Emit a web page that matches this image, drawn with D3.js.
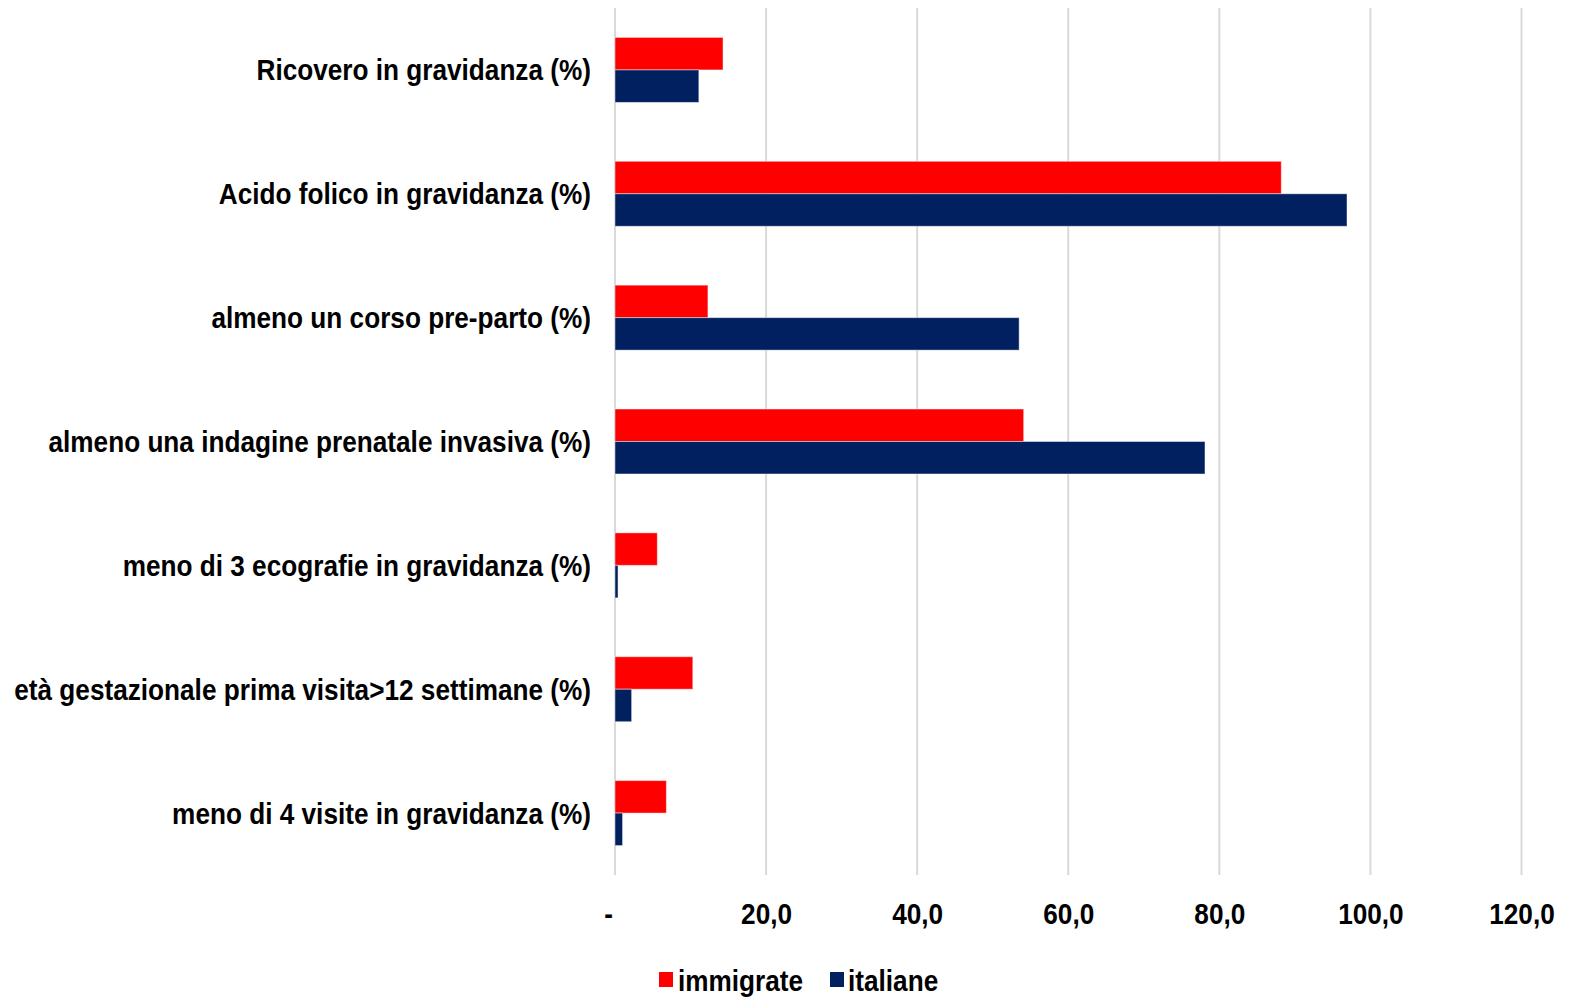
<!DOCTYPE html>
<html>
<head>
<meta charset="utf-8">
<script src="https://cdn.jsdelivr.net/npm/d3@7"></script>
<style>
  html, body { margin: 0; padding: 0; background: #fff; }
  svg { display: block; }
  text { font-family: "Liberation Sans Narrow", "Arial Narrow", "Liberation Sans", Arial, sans-serif; font-weight: bold; fill: #000; }
</style>
</head>
<body>
<svg id="chart" width="1572" height="999"></svg>
<script>
// Indicators (top to bottom)
const categories = [
  "Ricovero in gravidanza (%)",
  "Acido folico in gravidanza (%)",
  "almeno un corso pre-parto (%)",
  "almeno una indagine prenatale invasiva (%)",
  "meno di 3 ecografie in gravidanza (%)",
  "età gestazionale prima visita>12 settimane (%)",
  "meno di 4 visite in gravidanza (%)"
];
const seriesNames = ["immigrate", "italiane"];
const immigrate = [14.3, 88.2, 12.3, 54.1, 5.6, 10.3, 6.8];
const italiane  = [11.1, 96.9, 53.5, 78.1, 0.4, 2.2, 1.0];
const tickValues = [0, 20, 40, 60, 80, 100, 120];
const tickLabels = ["-", "20,0", "40,0", "60,0", "80,0", "100,0", "120,0"];
const seriesColors = ["#ff0000", "#002060"];

const rows = categories.map((c, i) => ({ category: c, values: [immigrate[i], italiane[i]] }));

const svg = d3.select("#chart");
const plotLeft = 615, plotRight = 1521.5, plotTop = 8, plotBottom = 875;
const fontSize = 30;
const narrow = 0.873; // horizontal squeeze to get a condensed bold face

const x = d3.scaleLinear().domain([0, 120]).range([plotLeft, plotRight]);
const y0 = d3.scaleBand().domain(categories).range([plotTop, plotBottom]).padding(0);
const y1 = d3.scaleBand().domain(seriesNames).range([0, y0.bandwidth()]).paddingInner(0).paddingOuter(0.906);
const color = d3.scaleOrdinal().domain(seriesNames).range(seriesColors);

// Vertical gridlines
svg.append("g")
  .selectAll("line")
  .data(tickValues)
  .join("line")
  .attr("x1", d => x(d)).attr("x2", d => x(d))
  .attr("y1", plotTop).attr("y2", plotBottom)
  .attr("stroke", "#d9d9d9")
  .attr("stroke-width", 2);

// Bars
const groups = svg.append("g")
  .selectAll("g")
  .data(rows)
  .join("g")
  .attr("transform", d => `translate(0,${y0(d.category)})`);

groups.selectAll("rect")
  .data(d => d.values.map((v, k) => ({ key: seriesNames[k], value: v })))
  .join("rect")
  .attr("x", x(0))
  .attr("y", d => y1(d.key))
  .attr("width", d => x(d.value) - x(0))
  .attr("height", y1.bandwidth())
  .attr("fill", d => color(d.key))
  .attr("stroke", "rgba(255,255,255,0.45)")
  .attr("stroke-width", 1);

// Category labels
svg.append("g")
  .selectAll("text")
  .data(categories)
  .join("text")
  .attr("transform", d => `translate(591,${y0(d) + y0.bandwidth() / 2}) scale(${narrow},1)`)
  .attr("dy", "0.35em")
  .attr("text-anchor", "end")
  .attr("font-size", fontSize)
  .text(d => d);

// Value axis labels
const axis = d3.axisBottom(x)
  .tickValues(tickValues)
  .tickFormat((d, i) => tickLabels[i])
  .tickSize(0)
  .tickPadding(0);

const ax = svg.append("g")
  .attr("transform", `translate(0,${913})`)
  .call(axis);
ax.attr("font-family", null).attr("font-size", null);
ax.select(".domain").remove();
ax.selectAll("text")
  .attr("y", 0)
  .attr("dy", "0.35em")
  .attr("font-size", fontSize)
  .attr("fill", "#000")
  .attr("transform", d => `translate(${d === 0 ? -7 : 0},0) scale(${narrow},1)`);

// Legend
const legendItems = [
  { key: "immigrate", sx: 659, tx: 678 },
  { key: "italiane", sx: 830, tx: 848 }
];
const legend = svg.append("g");
legend.selectAll("rect")
  .data(legendItems)
  .join("rect")
  .attr("x", d => d.sx)
  .attr("y", 972)
  .attr("width", 14)
  .attr("height", 15)
  .attr("fill", d => color(d.key));
legend.selectAll("text")
  .data(legendItems)
  .join("text")
  .attr("transform", d => `translate(${d.tx},991) scale(${narrow},1)`)
  .attr("font-size", fontSize)
  .text(d => d.key);
</script>
</body>
</html>
